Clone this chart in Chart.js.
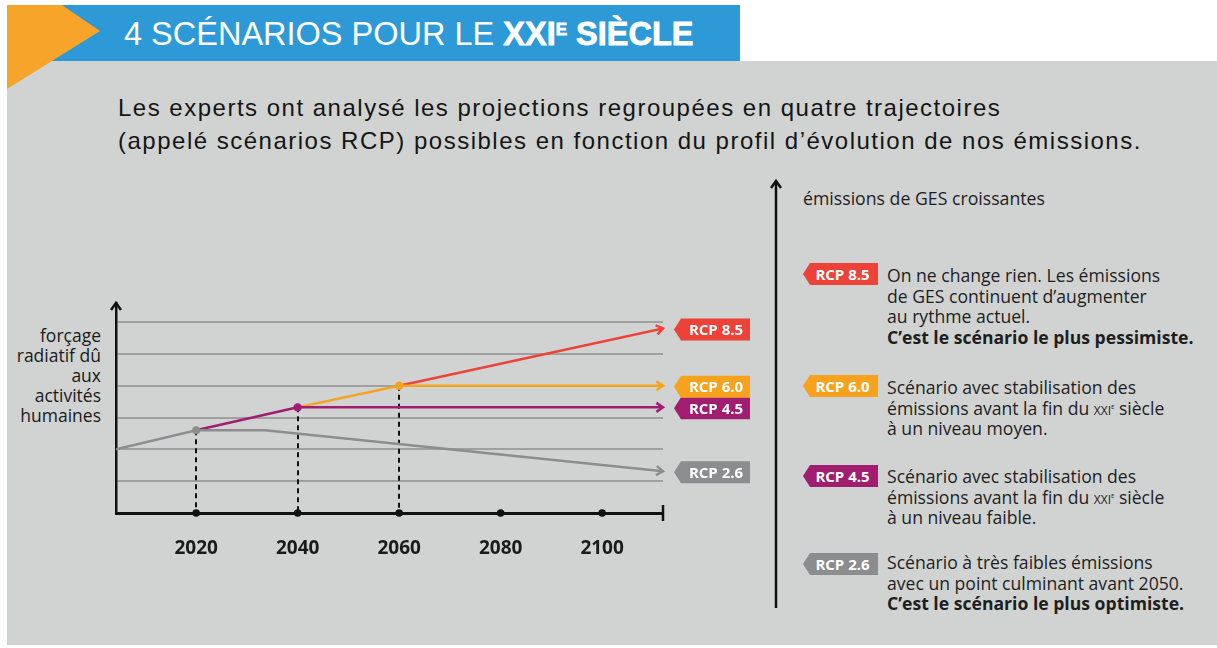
<!DOCTYPE html>
<html><head><meta charset="utf-8">
<script src="https://cdn.jsdelivr.net/npm/chart.js@4"></script>
<style>
body{margin:0;width:1217px;height:648px;position:relative;background:#fff;overflow:hidden;font-family:"Open Sans",sans-serif;}
#panel{position:absolute;left:7px;top:61px;width:1210px;height:584px;background:#d1d3d2;}
#band{position:absolute;left:38px;top:5px;width:702px;height:56px;background:#2d9ad7;}
#tri{position:absolute;left:7px;top:5px;width:93px;height:84px;background:#f6a42a;clip-path:polygon(0 0,59% 0,100% 31%,0 100%);}
#title{position:absolute;left:124px;top:14px;font-size:32.5px;font-family:"Liberation Sans",Arial,sans-serif;color:#fff;white-space:nowrap;line-height:40px;}
#title b{font-weight:900;-webkit-text-stroke:0.8px #fff;}
#title b sup{font-size:17px;vertical-align:10px;line-height:0;}
#sub{position:absolute;left:118px;top:91px;font-size:24px;letter-spacing:1.5px;font-family:"Liberation Sans",sans-serif;line-height:33px;color:#151515;white-space:nowrap;}
#ytitle{position:absolute;right:calc(1217px - 101px);top:325px;text-align:right;font-size:17.5px;line-height:20px;color:#1a1a1a;white-space:nowrap;}
.rt{position:absolute;left:887px;font-size:17.6px;line-height:20.5px;color:#1e1e1e;white-space:nowrap;}
.rt b{font-weight:700;}
.sc{font-variant:small-caps;}
.sc sup{font-size:9px;vertical-align:6px;line-height:0;}
.tag{position:absolute;left:803px;width:75px;height:22px;color:#fff;font-weight:700;font-size:15px;line-height:22px;text-align:center;padding-left:4px;box-sizing:border-box;clip-path:polygon(7px 0,100% 0,100% 100%,7px 100%,0 50%);}
#ges{position:absolute;left:803px;top:187px;font-size:17.7px;line-height:22px;color:#1e1e1e;white-space:nowrap;}
canvas{position:absolute;left:0;top:0;}
</style></head>
<body>
<div id="panel"></div>
<div id="band"></div>
<div id="tri"></div>
<div id="title">4 SCÉNARIOS POUR LE <b>XXI<sup>E</sup> SIÈCLE</b></div>
<div id="sub">Les experts ont analysé les projections regroupées en quatre trajectoires<br>(appelé scénarios RCP) possibles en fonction du profil d’évolution de nos émissions.</div>
<div id="ytitle">forçage<br>radiatif dû<br>aux<br>activités<br>humaines</div>
<div id="ges">émissions de GES croissantes</div>

<div class="tag" style="top:263px;background:#ec4237">RCP 8.5</div>
<div class="rt" style="top:265px">On ne change rien. Les émissions<br>de GES continuent d’augmenter<br>au rythme actuel.<br><b>C’est le scénario le plus pessimiste.</b></div>

<div class="tag" style="top:375px;background:#f7a21d">RCP 6.0</div>
<div class="rt" style="top:377px">Scénario avec stabilisation des<br>émissions avant la fin du <span class="sc">xxi<sup>e</sup></span> siècle<br>à un niveau moyen.</div>

<div class="tag" style="top:465px;background:#a11d6f">RCP 4.5</div>
<div class="rt" style="top:466px">Scénario avec stabilisation des<br>émissions avant la fin du <span class="sc">xxi<sup>e</sup></span> siècle<br>à un niveau faible.</div>

<div class="tag" style="top:553px;background:#8b8c8d">RCP 2.6</div>
<div class="rt" style="top:552px">Scénario à très faibles émissions<br>avec un point culminant avant 2050.<br><b>C’est le scénario le plus optimiste.</b></div>

<canvas id="c" width="1217" height="648"></canvas>
<script>
// ---- data ----
const rcp26Years = [2004.2, 2020, 2033.6, 2112];
const rcp26Values = [2.0, 2.6, 2.6, 1.31];
const rcp45Years = [2020, 2040, 2112];
const rcp45Values = [2.6, 3.32, 3.32];
const rcp60Years = [2040, 2060, 2112];
const rcp60Values = [3.32, 4.0, 4.0];
const rcp85Years = [2060, 2112];
const rcp85Values = [4.0, 5.8];
const tickYears = [2020, 2040, 2060, 2080, 2100];
const tickLabels = ['2020', '2040', '2060', '2080', '2100'];
const gridValues = [1, 2, 3, 4, 5, 6];
const dropYears = [2020, 2040, 2060];
const dropValues = [2.6, 3.32, 4.0];
const seriesNames = ['RCP 2.6', 'RCP 4.5', 'RCP 6.0', 'RCP 8.5'];
const xMin = 2004.2, xMax = 2112, yMin = 0, yMax = 6.6;

const colors = {gray:'#8c8d8e', mag:'#a11d6f', ora:'#f7a21d', red:'#ec4237'};

function pts(xs, ys){ return xs.map((v,i)=>({x:v, y:ys[i]})); }

const overlay = {
  id:'overlay',
  beforeDatasetsDraw(chart){
    const {ctx, scales:{x,y}, chartArea:a} = chart;
    ctx.save();
    ctx.setLineDash([5,4]);
    ctx.strokeStyle='#111'; ctx.lineWidth=2;
    dropYears.forEach((yr,i)=>{
      const px=Math.round(x.getPixelForValue(yr));
      ctx.beginPath(); ctx.moveTo(px, y.getPixelForValue(dropValues[i])); ctx.lineTo(px, a.bottom); ctx.stroke();
    });
    ctx.restore();
  },
  afterDraw(chart){
    const {ctx, scales:{x,y}, chartArea:a} = chart;
    ctx.save();
    // axis dots
    ctx.fillStyle='#111';
    tickYears.forEach(yr=>{ ctx.beginPath(); ctx.arc(x.getPixelForValue(yr), a.bottom, 3.8, 0, Math.PI*2); ctx.fill(); });
    // end tick
    ctx.strokeStyle='#111'; ctx.lineWidth=2.5;
    ctx.beginPath(); ctx.moveTo(a.right, a.bottom-8); ctx.lineTo(a.right, a.bottom+8); ctx.stroke();
    // y arrow head
    ctx.lineWidth=2.5; ctx.lineJoin='miter';
    ctx.beginPath(); ctx.moveTo(a.left-5, a.top+7); ctx.lineTo(a.left, a.top); ctx.lineTo(a.left+5, a.top+7); ctx.stroke();
    // right panel arrow
    ctx.beginPath(); ctx.moveTo(776, 608); ctx.lineTo(776, 181); ctx.stroke();
    ctx.beginPath(); ctx.moveTo(771, 188); ctx.lineTo(776, 181); ctx.lineTo(781, 188); ctx.stroke();
    // line arrow heads + tags
    chart.data.datasets.forEach((ds, i)=>{
      const d = ds.data, n = d.length;
      const x1 = x.getPixelForValue(d[n-1].x), y1 = y.getPixelForValue(d[n-1].y);
      const x0 = x.getPixelForValue(d[n-2].x), y0 = y.getPixelForValue(d[n-2].y);
      const ang = Math.atan2(y1-y0, x1-x0);
      ctx.strokeStyle = ds.borderColor; ctx.lineWidth = 2.5;
      ctx.beginPath();
      ctx.moveTo(x1 - 8*Math.cos(ang-0.6), y1 - 8*Math.sin(ang-0.6));
      ctx.lineTo(x1, y1);
      ctx.lineTo(x1 - 8*Math.cos(ang+0.6), y1 - 8*Math.sin(ang+0.6));
      ctx.stroke();
      // tag
      const tx = x1 + 11, tw = 76, th = 22, ty = y1 - th/2 + 1;
      ctx.fillStyle = ds.borderColor;
      ctx.beginPath();
      ctx.moveTo(tx, ty+th/2); ctx.lineTo(tx+7, ty); ctx.lineTo(tx+tw, ty); ctx.lineTo(tx+tw, ty+th); ctx.lineTo(tx+7, ty+th); ctx.closePath(); ctx.fill();
      ctx.fillStyle='#fff'; ctx.font='bold 15px "Open Sans"'; ctx.textAlign='center'; ctx.textBaseline='middle';
      ctx.fillText(ds.label, tx + 4 + tw/2, ty + th/2 + 1);
    });
    ctx.restore();
  }
};

new Chart(document.getElementById('c'), {
  type:'line',
  data:{datasets:[
    {label:seriesNames[0], data:pts(rcp26Years, rcp26Values), borderColor:colors.gray, backgroundColor:colors.gray, borderWidth:2.5, pointRadius:[0,4,0,0], pointBorderWidth:0},
    {label:seriesNames[1], data:pts(rcp45Years, rcp45Values), borderColor:colors.mag, backgroundColor:colors.mag, borderWidth:2.5, pointRadius:[0,4.2,0], pointBorderWidth:0},
    {label:seriesNames[2], data:pts(rcp60Years, rcp60Values), borderColor:colors.ora, backgroundColor:colors.ora, borderWidth:2.5, pointRadius:[0,4.2,0], pointBorderWidth:0},
    {label:seriesNames[3], data:pts(rcp85Years, rcp85Values), borderColor:colors.red, backgroundColor:colors.red, borderWidth:2.5, pointRadius:0}
  ]},
  options:{
    responsive:false, animation:false, devicePixelRatio:1,
    layout:{padding:{left:116, top:303, right:1217-663, bottom:0}},
    plugins:{legend:{display:false}, tooltip:{enabled:false}},
    elements:{line:{tension:0}},
    scales:{
      x:{type:'linear', min:xMin, max:xMax,
        afterBuildTicks:s=>{ s.ticks = tickYears.map(v=>({value:v})); },
        afterFit:s=>{ s.height = 648-513; },
        grid:{display:false, drawTicks:false},
        border:{display:true, color:'#111', width:3},
        ticks:{padding:24, color:'#1a1a1a', font:{family:'"Open Sans"', weight:'bold', size:19}, maxRotation:0, autoSkip:false,
          callback:(v)=>tickLabels[tickYears.indexOf(v)] ?? ''}
      },
      y:{min:yMin, max:yMax,
        afterBuildTicks:s=>{ s.ticks = gridValues.map(v=>({value:v})); },
        afterFit:s=>{ s.width = 0; },
        grid:{color:'#9fa0a0', lineWidth:2, drawTicks:false},
        border:{display:true, color:'#111', width:2.5},
        ticks:{display:false}
      }
    }
  },
  plugins:[overlay]
});
</script>
</body></html>
